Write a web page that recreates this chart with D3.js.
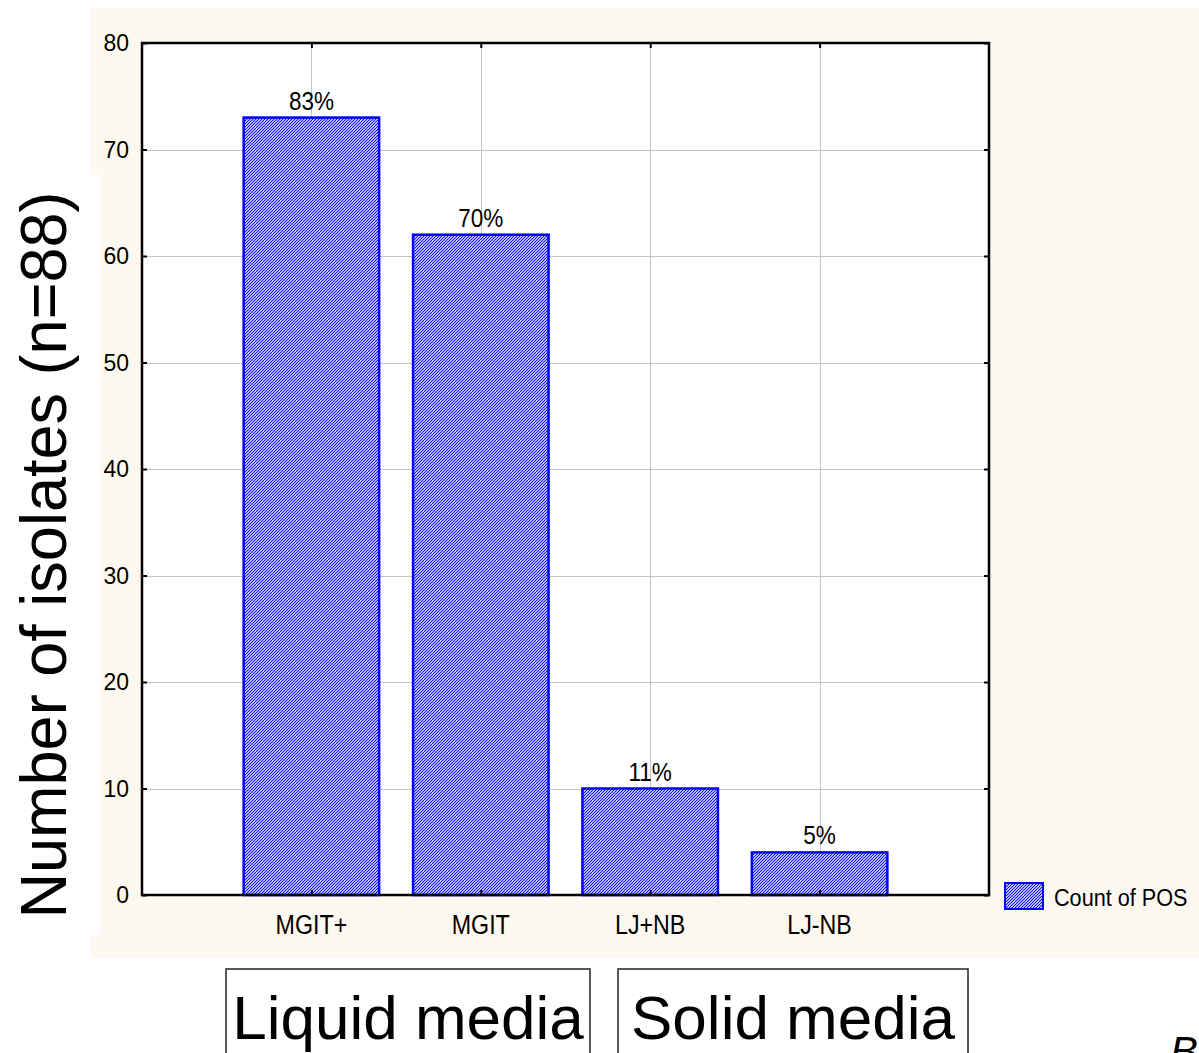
<!DOCTYPE html>
<html>
<head>
<meta charset="utf-8">
<script src="https://cdn.jsdelivr.net/npm/d3@7"></script>
<style>
  body { margin: 0; background: #fff; }
  svg { display: block; font-family: "Liberation Sans", Arial, Helvetica, sans-serif; }
</style>
</head>
<body>
<svg id="chart" width="1199" height="1053"></svg>
<script>
// chart data
const categories = ["MGIT+", "MGIT", "LJ+NB", "LJ-NB"];
const counts = [73, 62, 10, 4];
const percentLabels = ["83%", "70%", "11%", "5%"];
const yTicks = [0, 10, 20, 30, 40, 50, 60, 70, 80];
const groupLabels = ["Liquid media", "Solid media"];
const legendLabel = "Count of POS";

const svg = d3.select("#chart");

/**
 * squeeze text horizontally, the original looks like a narrow Helvetica
 */
function squeeze(sel, k) {
    sel.each(function () {
        const w = this.getComputedTextLength();
        d3.select(this).attr("textLength", w * k).attr("lengthAdjust", "spacingAndGlyphs");
    });
}

// hatched fill for the bars
const defs = svg.append("defs");
const hatch = defs.append("pattern")
    .attr("id", "hatch")
    .attr("patternUnits", "userSpaceOnUse")
    .attr("width", 3).attr("height", 3);
hatch.append("rect").attr("width", 3).attr("height", 3).attr("fill", "#fff");
hatch.append("path")
    .attr("d", "M-1,1 L1,-1 M0,3 L3,0 M2,4 L4,2")
    .attr("stroke", "#0000ff")
    .attr("stroke-width", 1.1);

// background panels
svg.append("rect").attr("x", 91).attr("y", 8).attr("width", 1108).attr("height", 950).attr("fill", "#fdf9f0");
svg.append("rect").attr("x", 0).attr("y", 175).attr("width", 100).attr("height", 760).attr("fill", "#fff");

const plot = { left: 142, top: 43, right: 989, bottom: 895 };

const x = d3.scalePoint()
    .domain(categories)
    .range([plot.left, plot.right])
    .padding(1);
const y = d3.scaleLinear()
    .domain([0, 80])
    .range([plot.bottom, plot.top]);
const barWidth = x.step() * 0.8;

// plot area
svg.append("rect")
    .attr("x", plot.left).attr("y", plot.top)
    .attr("width", plot.right - plot.left).attr("height", plot.bottom - plot.top)
    .attr("fill", "#fff");

// grid lines
const grid = svg.append("g").attr("stroke", "#c4c4c4").attr("stroke-width", 1);
grid.selectAll("line.h")
    .data(yTicks.slice(1, -1))
    .enter().append("line")
    .attr("x1", plot.left).attr("x2", plot.right)
    .attr("y1", d => Math.round(y(d)) + 0.5).attr("y2", d => Math.round(y(d)) + 0.5);
grid.selectAll("line.v")
    .data(categories)
    .enter().append("line")
    .attr("y1", plot.top).attr("y2", plot.bottom)
    .attr("x1", d => Math.round(x(d)) + 0.5).attr("x2", d => Math.round(x(d)) + 0.5);

// bars
svg.append("g").selectAll("rect")
    .data(categories)
    .enter().append("rect")
    .attr("x", d => x(d) - barWidth / 2)
    .attr("width", barWidth)
    .attr("y", (d, i) => y(counts[i]))
    .attr("height", (d, i) => y(0) - y(counts[i]))
    .attr("fill", "url(#hatch)")
    .attr("stroke", "#0000ff")
    .attr("stroke-width", 2.5);

// percent labels above bars
svg.append("g").selectAll("text")
    .data(categories)
    .enter().append("text")
    .attr("x", d => x(d))
    .attr("y", (d, i) => y(counts[i]) - 8)
    .attr("text-anchor", "middle")
    .attr("font-size", 25)
    .text((d, i) => percentLabels[i])
    .call(squeeze, 0.9);

// axes: all ticks point inward
svg.append("g")
    .attr("transform", `translate(${plot.left},0)`)
    .call(d3.axisRight(y).tickValues(yTicks).tickSize(5).tickFormat(""))
    .call(g => g.select(".domain").remove());
svg.append("g")
    .attr("transform", `translate(${plot.right},0)`)
    .call(d3.axisLeft(y).tickValues(yTicks).tickSize(5).tickFormat(""))
    .call(g => g.select(".domain").remove());
svg.append("g")
    .attr("transform", `translate(0,${plot.bottom})`)
    .call(d3.axisTop(x).tickSize(5).tickFormat(""))
    .call(g => g.select(".domain").remove());
svg.append("g")
    .attr("transform", `translate(0,${plot.top})`)
    .call(d3.axisBottom(x).tickSize(5).tickFormat(""))
    .call(g => g.select(".domain").remove());
svg.selectAll(".tick line").attr("stroke", "#000").attr("stroke-width", 2);

// frame
svg.append("rect")
    .attr("x", plot.left).attr("y", plot.top)
    .attr("width", plot.right - plot.left).attr("height", plot.bottom - plot.top)
    .attr("fill", "none")
    .attr("stroke", "#000")
    .attr("stroke-width", 2.5);

// y tick labels
svg.append("g").selectAll("text")
    .data(yTicks)
    .enter().append("text")
    .attr("x", plot.left - 13)
    .attr("y", d => y(d))
    .attr("dy", "0.36em")
    .attr("text-anchor", "end")
    .attr("font-size", 23)
    .text(d => d);

// x category labels
svg.append("g").selectAll("text")
    .data(categories)
    .enter().append("text")
    .attr("x", d => x(d))
    .attr("y", 934)
    .attr("text-anchor", "middle")
    .attr("font-size", 27)
    .text(d => d)
    .call(squeeze, 0.86);

// y axis title
svg.append("text")
    .attr("transform", "translate(66,555) rotate(-90)")
    .attr("text-anchor", "middle")
    .attr("font-size", 65)
    .text("Number of isolates (n=88)")
    .call(squeeze, 0.97);

// legend
svg.append("rect")
    .attr("x", 1005).attr("y", 883).attr("width", 38).attr("height", 26)
    .attr("fill", "url(#hatch)")
    .attr("stroke", "#0000ff")
    .attr("stroke-width", 2);
svg.append("text")
    .attr("x", 1054).attr("y", 906)
    .attr("font-size", 23)
    .text(legendLabel)
    .call(squeeze, 0.94);

// group boxes under the axis
const groupBoxes = [[226, 590], [618, 968]];
svg.append("g").selectAll("rect")
    .data(groupLabels)
    .enter().append("rect")
    .attr("x", (d, i) => groupBoxes[i][0])
    .attr("y", 969)
    .attr("width", (d, i) => groupBoxes[i][1] - groupBoxes[i][0])
    .attr("height", 120)
    .attr("fill", "none")
    .attr("stroke", "#222")
    .attr("stroke-width", 1.5);
svg.append("g").selectAll("text")
    .data(groupLabels)
    .enter().append("text")
    .attr("x", (d, i) => (groupBoxes[i][0] + groupBoxes[i][1]) / 2)
    .attr("y", 1039)
    .attr("text-anchor", "middle")
    .attr("font-size", 62)
    .text(d => d);

// panel letter, cut off by the page edge as in the source figure
svg.append("text")
    .attr("x", 1170).attr("y", 1066)
    .attr("font-size", 42)
    .attr("font-style", "italic")
    .text("B");
</script>
</body>
</html>
